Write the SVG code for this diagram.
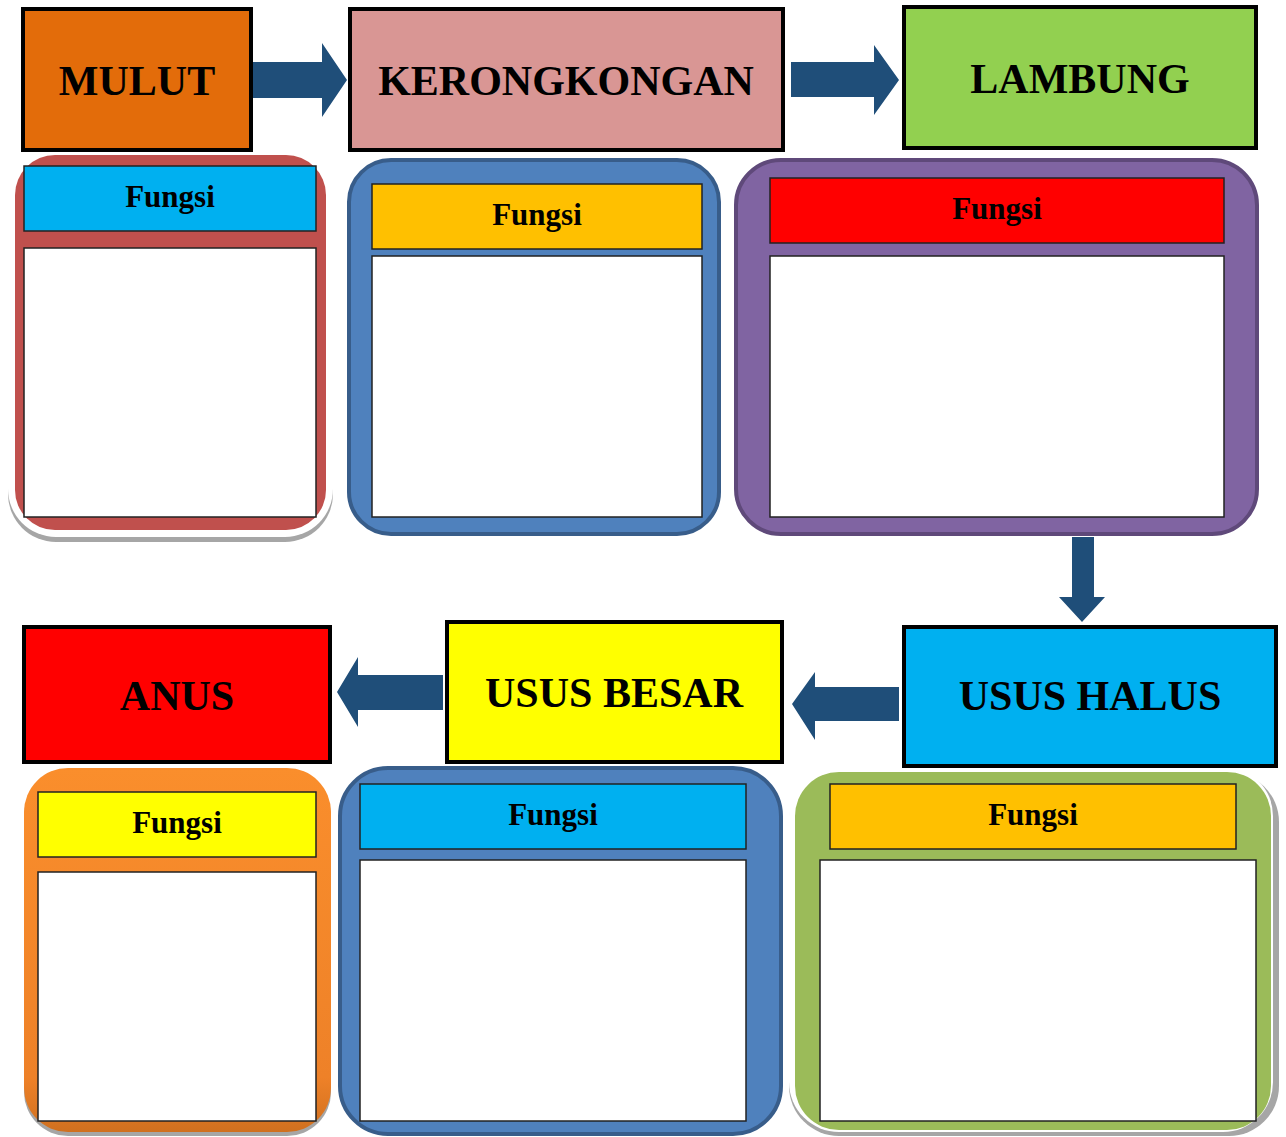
<svg xmlns="http://www.w3.org/2000/svg" width="1286" height="1137" viewBox="0 0 1286 1137">
<style>
.title{stroke:#000;stroke-width:4}
.tt{font-family:"Liberation Serif","Times New Roman",serif;font-weight:bold;font-size:42px;text-anchor:middle;fill:#000}
.ft{font-family:"Liberation Serif","Times New Roman",serif;font-weight:bold;font-size:31px;text-anchor:middle;fill:#000}
.hdr{stroke:#222;stroke-width:1.5}
.box{fill:#fff;stroke:#222;stroke-width:1.5}
.shadow{fill:#a6a6a6}
.rim{fill:#fff}
.arrow{fill:#1F4E79}
</style>
<rect width="1286" height="1137" fill="#fff"/>

<defs>
<linearGradient id="og" x1="0" y1="0" x2="0" y2="1">
<stop offset="0" stop-color="#FA8E2C"/>
<stop offset="0.85" stop-color="#EE8128"/>
<stop offset="1" stop-color="#D0701F"/>
</linearGradient>
</defs>

<g id="connectors">
<polygon class="arrow" points="252,62 322,62 322,43 347,80 322,117 322,98 252,98"/>
<polygon class="arrow" points="791,62 874,62 874,45 899,80 874,115 874,97 791,97"/>
<polygon class="arrow" points="1072,537 1094,537 1094,597 1105,597 1082,622 1059,597 1072,597"/>
<polygon class="arrow" points="443,675 358,675 358,657 337,692 358,727 358,710 443,710"/>
<polygon class="arrow" points="899,687 815,687 815,672 792,704 815,740 815,721 899,721"/>
</g>

<g id="fungsi-mulut">
<rect class="shadow" x="8" y="160" width="325" height="382" rx="48"/>
<rect class="rim" x="8" y="152" width="325" height="385" rx="48"/>
<rect x="15" y="155" width="311" height="375" rx="40" fill="#C0504D"/>
<rect class="hdr" x="24" y="166" width="292" height="65" fill="#00B0F0"/>
<text class="ft" x="170" y="207">Fungsi</text>
<rect class="box" x="24" y="248" width="292" height="269"/>
</g>

<g id="fungsi-kerongkongan">
<rect x="349" y="160" width="370" height="374" rx="42" fill="#4F81BD" stroke="#385D8A" stroke-width="4"/>
<rect class="hdr" x="372" y="184" width="330" height="65" fill="#FFC000"/>
<text class="ft" x="537" y="225">Fungsi</text>
<rect class="box" x="372" y="256" width="330" height="261"/>
</g>

<g id="fungsi-lambung">
<rect x="736" y="160" width="521" height="374" rx="45" fill="#8064A2" stroke="#5F497A" stroke-width="4"/>
<rect class="hdr" x="770" y="178" width="454" height="65" fill="#FF0000"/>
<text class="ft" x="997" y="219">Fungsi</text>
<rect class="box" x="770" y="256" width="454" height="261"/>
</g>

<g id="fungsi-anus">
<rect class="shadow" x="24" y="772" width="307" height="364" rx="44"/>
<rect x="24" y="768" width="307" height="364" rx="44" fill="url(#og)"/>
<rect class="hdr" x="38" y="792" width="278" height="65" fill="#FFFF00"/>
<text class="ft" x="177" y="833">Fungsi</text>
<rect class="box" x="38" y="872" width="278" height="249"/>
</g>

<g id="fungsi-usus-besar">
<rect x="340" y="768" width="441" height="366" rx="48" fill="#4F81BD" stroke="#385D8A" stroke-width="4"/>
<rect class="hdr" x="360" y="784" width="386" height="65" fill="#00B0F0"/>
<text class="ft" x="553" y="825">Fungsi</text>
<rect class="box" x="360" y="860" width="386" height="261"/>
</g>

<g id="fungsi-usus-halus">
<rect class="shadow" x="789" y="772" width="490" height="364" rx="50"/>
<rect class="rim" x="789" y="766" width="484" height="366" rx="50"/>
<rect x="795" y="772" width="476" height="358" rx="44" fill="#9BBB59"/>
<rect class="hdr" x="830" y="784" width="406" height="65" fill="#FFC000"/>
<text class="ft" x="1033" y="825">Fungsi</text>
<rect class="box" x="820" y="860" width="436" height="261"/>
</g>

<g id="mulut">
<rect class="title" x="23" y="9" width="228" height="141" fill="#E36C0A"/>
<text class="tt" x="137" y="95">MULUT</text>
</g>
<g id="kerongkongan">
<rect class="title" x="350" y="9" width="433" height="141" fill="#D99694"/>
<text class="tt" x="566" y="95">KERONGKONGAN</text>
</g>
<g id="lambung">
<rect class="title" x="904" y="7" width="352" height="141" fill="#92D050"/>
<text class="tt" x="1080" y="93">LAMBUNG</text>
</g>

<g id="anus">
<rect class="title" x="24" y="627" width="306" height="135" fill="#FF0000"/>
<text class="tt" x="177" y="710">ANUS</text>
</g>
<g id="usus-besar">
<rect class="title" x="447" y="622" width="335" height="140" fill="#FFFF00"/>
<text class="tt" x="614" y="707">USUS BESAR</text>
</g>
<g id="usus-halus">
<rect class="title" x="904" y="627" width="372" height="139" fill="#00B0F0"/>
<text class="tt" x="1090" y="710">USUS HALUS</text>
</g>
</svg>
